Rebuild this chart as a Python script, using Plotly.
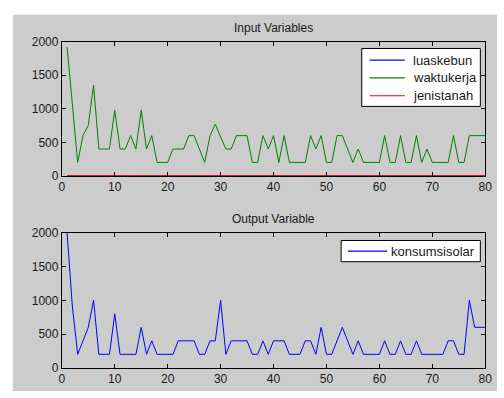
import plotly.graph_objects as go

x_index = list(range(1, 81))

waktukerja = [1920, 1050, 200, 600, 750, 1350, 400, 400, 400, 980,
              400, 400, 600, 400, 980, 400, 600, 200, 200, 200,
              400, 400, 400, 600, 600, 400, 200, 600, 770, 580,
              400, 400, 600, 600, 600, 200, 200, 600, 400, 600,
              200, 600, 200, 200, 200, 200, 600, 400, 600, 200,
              200, 600, 600, 400, 200, 400, 200, 200, 200, 200,
              600, 200, 200, 600, 200, 200, 600, 200, 400, 200,
              200, 200, 200, 600, 200, 200, 600, 600, 600, 600]

luaskebun = [2, 1, 1, 2, 2, 3, 1, 1, 1, 2,
             1, 1, 2, 1, 2, 1, 2, 1, 1, 1,
             1, 1, 1, 2, 2, 1, 1, 2, 2, 2,
             1, 1, 2, 2, 2, 1, 1, 2, 1, 2,
             1, 2, 1, 1, 1, 1, 2, 1, 2, 1,
             1, 2, 2, 1, 1, 1, 1, 1, 1, 1,
             2, 1, 1, 2, 1, 1, 2, 1, 1, 1,
             1, 1, 1, 2, 1, 1, 2, 2, 2, 2]

jenistanah = [1, 2, 1, 2, 1, 2, 1, 1, 2, 1,
              1, 2, 1, 1, 2, 1, 2, 1, 1, 2,
              1, 1, 2, 1, 2, 1, 1, 2, 1, 2,
              1, 2, 1, 1, 2, 1, 2, 1, 1, 2,
              1, 1, 2, 1, 2, 1, 1, 2, 1, 2,
              1, 2, 1, 1, 2, 1, 2, 1, 1, 2,
              1, 1, 2, 1, 2, 1, 1, 2, 1, 2,
              1, 2, 1, 1, 2, 1, 2, 1, 1, 2]

konsumsisolar = [2000, 900, 200, 400, 600, 1000, 200, 200, 200, 800,
                 200, 200, 200, 200, 600, 200, 400, 200, 200, 200,
                 200, 400, 400, 400, 400, 200, 200, 400, 400, 1000,
                 200, 400, 400, 400, 400, 200, 200, 400, 200, 400,
                 400, 400, 200, 200, 200, 400, 400, 200, 600, 200,
                 200, 400, 600, 400, 200, 400, 200, 200, 200, 200,
                 400, 200, 200, 400, 200, 200, 400, 200, 200, 200,
                 200, 200, 400, 400, 200, 200, 1000, 600, 600, 600]

x_ticks = [0, 10, 20, 30, 40, 50, 60, 70, 80]
y_ticks = [0, 500, 1000, 1500, 2000]

input_names = ["luaskebun", "waktukerja", "jenistanah"]
input_colors = ["#0000ff", "#008000", "#ff0000"]
output_names = ["konsumsisolar"]
output_colors = ["#0000ff"]

W, H = 504, 398
FONT = "Liberation Sans, Arial, sans-serif"
TXT = "#1a1a1a"

fig = go.Figure()
for name, vals, col, w in zip(input_names, [luaskebun, waktukerja, jenistanah], input_colors, [1, 1, 1.3]):
    fig.add_trace(go.Scatter(x=x_index, y=vals, mode="lines", name=name, showlegend=False,
                             line=dict(color=col, width=w), xaxis="x", yaxis="y"))
fig.add_trace(go.Scatter(x=x_index, y=konsumsisolar, mode="lines", name=output_names[0], showlegend=False,
                         line=dict(color=output_colors[0], width=1), xaxis="x2", yaxis="y2"))

def px_x(p):
    return p / W

def px_y(p):
    return 1 - p / H

axis_common = dict(showgrid=False, zeroline=False, showline=True, linecolor="black", linewidth=1,
                   mirror="ticks", ticks="inside", ticklen=4, tickcolor="black",
                   tickfont=dict(family=FONT, size=12, color=TXT))

shapes = [dict(type="rect", xref="paper", yref="paper", x0=px_x(10), x1=1, y0=0, y1=px_y(8),
               fillcolor="#cccccc", line=dict(width=0), layer="below")]
annotations = [
    dict(text="Input Variables", xref="paper", yref="paper", x=px_x(276), y=px_y(22),
         xanchor="center", yanchor="middle", showarrow=False, font=dict(family=FONT, size=12, color=TXT)),
    dict(text="Output Variable", xref="paper", yref="paper", x=px_x(276), y=px_y(220),
         xanchor="center", yanchor="middle", showarrow=False, font=dict(family=FONT, size=12, color=TXT)),
]

def add_legend(box, line_x, text_x, rows, names, colors):
    x0, x1, y0, y1 = box
    shapes.append(dict(type="rect", xref="paper", yref="paper", x0=px_x(x0), x1=px_x(x1),
                       y0=px_y(y1), y1=px_y(y0), fillcolor="white",
                       line=dict(color="black", width=1), layer="above"))
    for ry, nm, col in zip(rows, names, colors):
        shapes.append(dict(type="line", xref="paper", yref="paper", x0=px_x(line_x[0]), x1=px_x(line_x[1]),
                           y0=px_y(ry), y1=px_y(ry), line=dict(color=col, width=1.2), layer="above"))
        annotations.append(dict(text=nm, xref="paper", yref="paper", x=px_x(text_x), y=px_y(ry),
                                xanchor="left", yanchor="middle", showarrow=False,
                                font=dict(family=FONT, size=13, color=TXT)))

add_legend((366, 487, 43, 103), (374, 410), 416, [55, 73.5, 92], input_names, input_colors)
add_legend((345, 487, 242, 264), (352, 392), 394, [253], output_names, output_colors)

xdom = [px_x(60), px_x(492)]
fig.update_layout(
    width=W, height=H,
    autosize=False,
    margin=dict(l=0, r=0, t=0, b=0),
    paper_bgcolor="white",
    plot_bgcolor="white",
    showlegend=False,
    xaxis=dict(domain=xdom, range=[0, 80], tickvals=x_ticks, anchor="y", **axis_common),
    yaxis=dict(domain=[px_y(175), px_y(36)], range=[0, 2000], tickvals=y_ticks, anchor="x", **axis_common),
    xaxis2=dict(domain=xdom, range=[0, 80], tickvals=x_ticks, anchor="y2", **axis_common),
    yaxis2=dict(domain=[px_y(374), px_y(234)], range=[0, 2000], tickvals=y_ticks, anchor="x2", **axis_common),
    shapes=shapes,
    annotations=annotations,
)

post = (
    "document.documentElement.style.margin='0';"
    "document.body.style.margin='0';document.body.style.padding='0';"
    "document.body.style.overflow='hidden';"
)

fig.write_html("out.html", config={"responsive": False, "displayModeBar": False}, post_script=post)
